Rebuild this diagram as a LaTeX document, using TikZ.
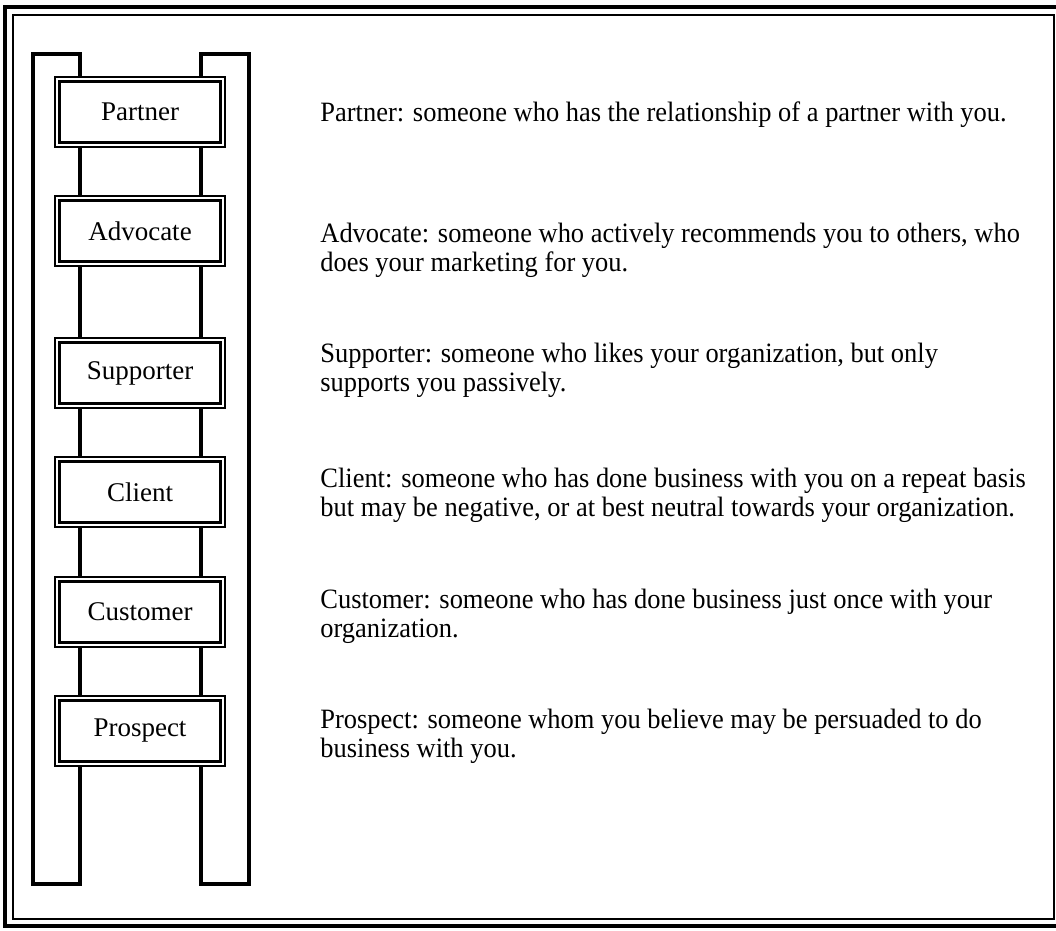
\documentclass[tikz,border=0pt]{standalone}
\usepackage{fontspec}
\setmainfont{Liberation Serif}
\newfontfamily\descfont[FakeStretch=0.945]{Liberation Serif}
\usetikzlibrary{positioning}

\tikzset{
  rung/.style={draw,double,line width=1.2pt,double distance=0.9pt,fill=white,
               minimum width=82.7pt,minimum height=32.7pt,inner sep=0pt},
  rail/.style={draw,line width=1.6pt},
  desc/.style={anchor=base west,align=left,inner sep=0pt,
               font=\descfont\fontsize{14pt}{14.5pt}\selectfont}
}

\begin{document}
\begin{tikzpicture}[x=0.5pt,y=-0.5pt,node distance=59.5pt,on grid,
    font=\fontsize{13.5pt}{14.5pt}\selectfont]
    \useasboundingbox (0,0) rectangle (1056,931);
    % frame
    \draw[line width=2.2pt] (5,7) rectangle (1062,926);
    \draw[line width=0.8pt] (13,15) rectangle (1054,919);
    % ladder rails
    \draw[rail] (33,54) rectangle (80,884);
    \draw[rail] (201,54) rectangle (249,884);
    % rungs
    \node[rung] (partner) at (140,112) {Partner};
    \node[rung] (advocate) [below=of partner] {Advocate};
    \node[rung] (supporter) [below=71pt of advocate] {Supporter};
    \node[rung] (client) [below=of supporter] {Client};
    \node[rung] (customer) [below=60pt of client] {Customer};
    \node[rung] (prospect) [below=of customer] {Prospect};
    % descriptions (base = last line)
    \node[desc] (partnerText) at (320,122) {Partner: someone who has the relationship of a partner with you.};
    \node[desc] (advocateText) at (320,271) {Advocate: someone who actively recommends you to others, who\\does your marketing for you.};
    \node[desc] (supporterText) at (320,391) {Supporter: someone who likes your organization, but only\\supports you passively.};
    \node[desc] (clientText) at (320,516) {Client: someone who has done business with you on a repeat basis\\but may be negative, or at best neutral towards your organization.};
    \node[desc] (customerText) at (320,637) {Customer: someone who has done business just once with your\\organization.};
    \node[desc] (prospectText) at (320,757) {Prospect: someone whom you believe may be persuaded to do\\business with you.};
\end{tikzpicture}
\end{document}
